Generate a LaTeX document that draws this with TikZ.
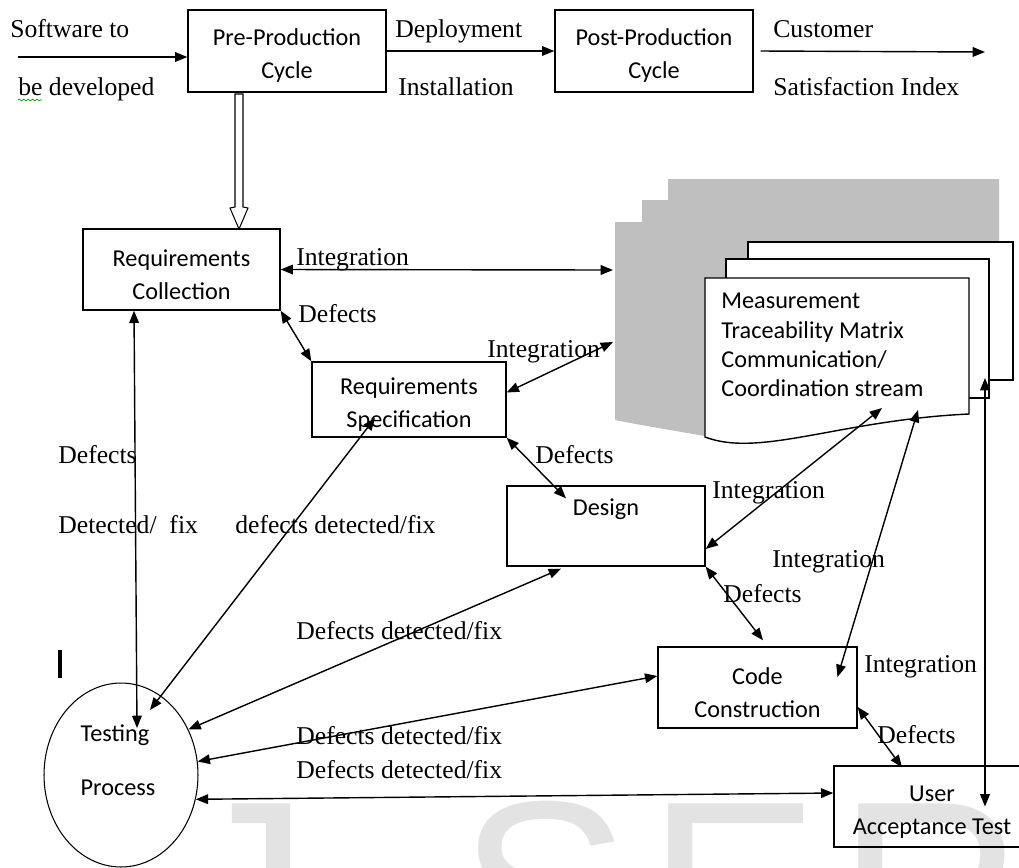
\documentclass[tikz,border=0pt]{standalone}
\usepackage{fontspec}
\setmainfont{Liberation Serif}
\newfontfamily\boxfont{Carlito}
\newfontfamily\markfont{Liberation Sans}
\usetikzlibrary{arrows.meta,shapes.geometric,decorations.pathmorphing}

\newcommand\topstrut{\rule{0pt}{15pt}}

\tikzset{
  box/.style={draw, line width=0.8pt, font=\boxfont\fontsize{13.8}{18.7}\selectfont, align=center, inner sep=0pt},
  lbl/.style={font=\fontsize{14.6}{17}\selectfont, inner sep=0pt, anchor=base west},
  arr/.style={line width=0.8pt, -{Triangle[length=7pt,width=5.5pt]}},
  darr/.style={line width=0.8pt, {Triangle[length=7pt,width=5.5pt]}-{Triangle[length=7pt,width=5.5pt]}},
  wmark/.style={text=gray!22, font=\markfont\fontsize{147}{150}\selectfont, inner sep=0pt, anchor=base west}
}

\begin{document}
\begin{tikzpicture}[x=0.02cm, y=-0.02cm]
    \useasboundingbox (0,0) rectangle (1019,867);

    % watermark
    \node[wmark] (wmJ) at (180,981) {J};
    \node[wmark] (wmS) at (458,981) {S};
    \node[wmark] (wmE) at (647,981) {E};
    \node[wmark] (wmR) at (837,981) {R};

    % document stack
    \fill[gray!50] (668,179) -- (999,179) -- (999,375) -- (750,440) -- (705,436)
        .. controls (670,430) and (640,425) .. (615,420) -- (615,222) -- (642,222)
        -- (642,200) -- (668,200) -- cycle;
    \draw[line width=0.8pt, fill=white] (748,242) rectangle (1013,380);
    \draw[line width=0.8pt, fill=white] (726,259) rectangle (989,398);
    \draw[line width=0.8pt, fill=white] (705,278) -- (969,278) -- (969,414)
        .. controls (840,420) and (760,458) .. (705,437) -- cycle;
    \node[font=\boxfont\fontsize{13.8}{16.7}\selectfont, align=left, inner sep=0pt, anchor=north west]
        (docs) at (721,293) {Measurement\\Traceability Matrix\\Communication/\\Coordination stream};
    \coordinate (docin1) at (613,270);
    \coordinate (docin2) at (613,342);
    \coordinate (docout1) at (882,408);
    \coordinate (docout2) at (918,410);
    \coordinate (docout3) at (985,378);

    % boxes
    \node[box, minimum width=3.96cm, minimum height=1.64cm] (pre) at (287,51) {\topstrut Pre-Production\\Cycle};
    \node[box, minimum width=3.96cm, minimum height=1.64cm] (post) at (654,51) {\topstrut Post-Production\\Cycle};
    \node[box, minimum width=3.94cm, minimum height=1.62cm] (rc) at (181.5,269.5) {\topstrut Requirements\\Collection};
    \node[box, minimum width=3.88cm, minimum height=1.5cm] (rs) at (409,399.5) {\topstrut Requirements\\Specification};
    \node[box, minimum width=3.96cm, minimum height=1.6cm] (des) at (606,526) {\topstrut Design\\[8pt]~};
    \node[box, minimum width=3.98cm, minimum height=1.62cm] (cc) at (757.5,687.5) {\topstrut Code\\Construction};
    \node[box, minimum width=3.92cm, minimum height=1.62cm] (uat) at (932,806.5) {\topstrut User\\Acceptance Test};
    \node[draw, ellipse, line width=0.6pt, minimum width=3.08cm, minimum height=3.68cm, inner sep=0pt] (tp) at (121,775) {};
    \node[font=\boxfont\fontsize{13.8}{30.6}\selectfont, align=left, inner sep=0pt] (tptext) at (118,760) {Testing\\Process};

    % top row
    \coordinate (swin) at (18,57);
    \coordinate (csout) at (985,52);
    \draw[arr] (swin) -- (swin -| pre.west);
    \draw[arr] (pre.east) -- (post.west);
    \draw[arr] ([xshift=0.14cm]post.east) -- (csout);
    \draw[line width=0.6pt] (235,94) -- (235,207) -- (230,208) -- (239,229) -- (248,208)
        -- (243,207) -- (243,94) -- cycle;

    % integration
    \draw[darr] (rc.east) -- (docin1);
    \draw[darr] ([yshift=0.14cm]rs.east) -- (docin2);
    \draw[darr] ([yshift=-0.46cm]des.east) -- (docout1);
    \draw[darr] ([xshift=1.6cm,yshift=0.21cm]cc.center) -- (docout2);
    \draw[darr] (docout3) -- (docout3 |- uat.center);

    % defects
    \draw[darr] (rc.south east) -- (rs.north west);
    \draw[darr] (rs.south east) -- ([xshift=-0.8cm,yshift=-0.26cm]des.north);
    \draw[darr] (des.south east) -- ([xshift=0.11cm,yshift=0.12cm]cc.north);
    \draw[darr] ([yshift=-0.39cm]cc.east) -- ([xshift=-0.6cm,yshift=-0.04cm]uat.north);

    % defects detected/fix
    \draw[darr] ([xshift=-0.95cm]rc.south) -- ([xshift=0.32cm,yshift=0.94cm]tp.center);
    \draw[darr] ([xshift=-0.68cm,yshift=-0.37cm]rs.center) -- ([xshift=0.58cm,yshift=1.3cm]tp.center);
    \draw[darr] ([xshift=-0.9cm,yshift=-0.04cm]des.south) -- (tp.34);
    \draw[darr] ([yshift=0.23cm]cc.west) -- (tp.10);
    \draw[darr] (tp.-18) -- ([yshift=0.27cm]uat.west);

    % labels
    \node[lbl] (l1) at (10,37) {Software to};
    \node[lbl] (l2) at (18,95) {be developed};
    \draw[green!60!black, line width=0.4pt, decorate, decoration={snake, amplitude=0.5pt, segment length=2.5pt}] (l2.base west) ++(0,5) -- ++(24,0);
    \node[lbl] (l3) at (395,37) {Deployment};
    \node[lbl] (l4) at (398,95) {Installation};
    \node[lbl] (l5) at (773,37) {Customer};
    \node[lbl] (l6) at (773,95) {Satisfaction Index};
    \node[lbl] (l7) at (296,265) {Integration};
    \node[lbl] (l8) at (298,322) {Defects};
    \node[lbl] (l9) at (487,357) {Integration};
    \node[lbl] (l10) at (58,463) {Defects};
    \node[lbl] (l11) at (535,463) {Defects};
    \node[lbl] (l12) at (58,533) {Detected/\ \ fix};
    \node[lbl] (l13) at (235,533) {defects detected/fix};
    \node[lbl] (l14) at (712,498) {Integration};
    \node[lbl] (l15) at (772,567) {Integration};
    \node[lbl] (l16) at (723,602) {Defects};
    \node[lbl] (l17) at (296,639) {Defects detected/fix};
    \node[lbl] (l18) at (864,672) {Integration};
    \node[lbl] (l19) at (296,744) {Defects detected/fix};
    \node[lbl] (l20) at (877,743) {Defects};
    \node[lbl] (l21) at (296,778) {Defects detected/fix};

    \draw[line width=2.2pt] (60,650) -- (60,678);

\end{tikzpicture}
\end{document}
